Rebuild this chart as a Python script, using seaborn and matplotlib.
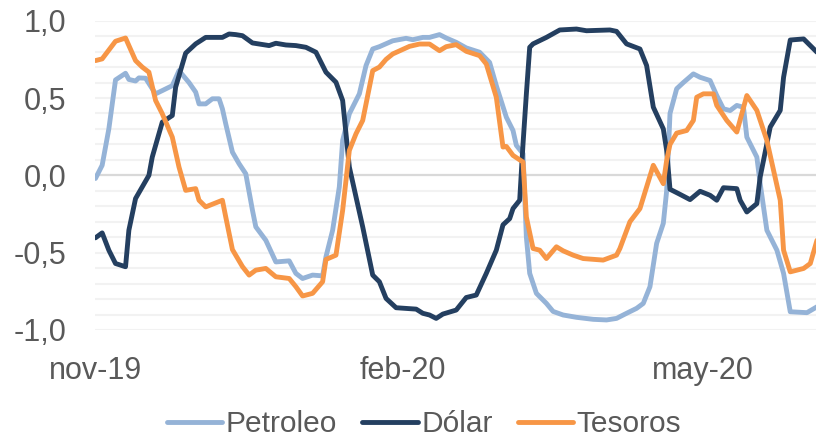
import matplotlib
matplotlib.use("Agg")
import matplotlib.pyplot as plt
import seaborn as sns
import pandas as pd

sns.set_theme(style="white")
plt.rcParams['font.family'] = ['Liberation Sans', 'DejaVu Sans']

# series names and colours
series = ["Petroleo", "Dólar", "Tesoros"]
colors = ["#95B3D7", "#243F60", "#F79646"]

# x axis ticks
tick_dates = ["2019-11-01", "2020-02-01", "2020-05-01"]
tick_labels = ["nov-19", "feb-20", "may-20"]
y_ticks = [-1.0, -0.5, 0.0, 0.5, 1.0]

petroleo_dates = [
    "2019-11-01", "2019-11-03", "2019-11-05", "2019-11-07", "2019-11-10", "2019-11-11",
    "2019-11-13", "2019-11-14", "2019-11-16", "2019-11-18", "2019-11-19", "2019-11-21",
    "2019-11-24", "2019-11-26", "2019-11-29", "2019-12-01", "2019-12-02", "2019-12-04",
    "2019-12-06", "2019-12-08", "2019-12-09", "2019-12-10", "2019-12-12", "2019-12-14",
    "2019-12-16", "2019-12-18", "2019-12-19", "2019-12-22", "2019-12-25", "2019-12-29",
    "2019-12-31", "2020-01-02", "2020-01-05", "2020-01-08", "2020-01-09", "2020-01-11",
    "2020-01-13", "2020-01-14", "2020-01-16", "2020-01-19", "2020-01-21", "2020-01-23",
    "2020-01-25", "2020-01-29", "2020-02-02", "2020-02-04", "2020-02-07", "2020-02-09",
    "2020-02-12", "2020-02-14", "2020-02-17", "2020-02-20", "2020-02-24", "2020-02-27",
    "2020-02-29", "2020-03-03", "2020-03-05", "2020-03-06", "2020-03-08", "2020-03-09",
    "2020-03-10", "2020-03-12", "2020-03-15", "2020-03-17", "2020-03-20", "2020-03-24",
    "2020-03-29", "2020-04-02", "2020-04-05", "2020-04-08", "2020-04-11", "2020-04-13",
    "2020-04-15", "2020-04-17", "2020-04-19", "2020-04-20", "2020-04-21", "2020-04-23",
    "2020-04-25", "2020-04-28", "2020-04-30", "2020-05-03", "2020-05-05", "2020-05-07",
    "2020-05-09", "2020-05-11", "2020-05-13", "2020-05-14", "2020-05-17", "2020-05-18",
    "2020-05-20", "2020-05-23", "2020-05-25", "2020-05-27", "2020-06-01", "2020-06-04",
]
petroleo = [
    -0.02, 0.065, 0.30, 0.617, 0.66, 0.62,
    0.61, 0.63, 0.628, 0.56, 0.527, 0.548,
    0.58, 0.677, 0.60, 0.538, 0.462, 0.462,
    0.495, 0.495, 0.43, 0.333, 0.15, 0.075,
    0.01, -0.226, -0.333, -0.42, -0.56, -0.553,
    -0.634, -0.667, -0.645, -0.65, -0.527, -0.355,
    -0.075, 0.226, 0.398, 0.527, 0.71, 0.817,
    0.832, 0.87, 0.886, 0.877, 0.892, 0.892,
    0.91, 0.888, 0.86, 0.824, 0.796, 0.73,
    0.58, 0.376, 0.29, 0.194, 0.14, -0.40,
    -0.634, -0.763, -0.828, -0.88, -0.903, -0.918,
    -0.931, -0.935, -0.925, -0.892, -0.86, -0.828,
    -0.72, -0.44, -0.31, -0.10, 0.40, 0.56,
    0.60, 0.656, 0.634, 0.613, 0.516, 0.43,
    0.419, 0.452, 0.44, 0.247, 0.118, -0.054,
    -0.355, -0.484, -0.634, -0.882, -0.888, -0.85,
]

dolar_dates = [
    "2019-11-01", "2019-11-03", "2019-11-05", "2019-11-07", "2019-11-10", "2019-11-11",
    "2019-11-13", "2019-11-15", "2019-11-17", "2019-11-18", "2019-11-20", "2019-11-21",
    "2019-11-24", "2019-11-25", "2019-11-28", "2019-12-01", "2019-12-04", "2019-12-09",
    "2019-12-11", "2019-12-13", "2019-12-15", "2019-12-18", "2019-12-23", "2019-12-25",
    "2019-12-28", "2019-12-31", "2020-01-03", "2020-01-06", "2020-01-09", "2020-01-12",
    "2020-01-14", "2020-01-15", "2020-01-16", "2020-01-18", "2020-01-20", "2020-01-23",
    "2020-01-25", "2020-01-27", "2020-01-30", "2020-02-05", "2020-02-07", "2020-02-09",
    "2020-02-11", "2020-02-13", "2020-02-17", "2020-02-20", "2020-02-23", "2020-02-26",
    "2020-02-29", "2020-03-02", "2020-03-04", "2020-03-05", "2020-03-07", "2020-03-08",
    "2020-03-09", "2020-03-10", "2020-03-11", "2020-03-15", "2020-03-19", "2020-03-24",
    "2020-03-27", "2020-04-03", "2020-04-05", "2020-04-08", "2020-04-12", "2020-04-14",
    "2020-04-16", "2020-04-19", "2020-04-20", "2020-04-21", "2020-04-24", "2020-04-27",
    "2020-04-30", "2020-05-03", "2020-05-05", "2020-05-07", "2020-05-11", "2020-05-12",
    "2020-05-14", "2020-05-17", "2020-05-18", "2020-05-21", "2020-05-24", "2020-05-25",
    "2020-05-27", "2020-05-31", "2020-06-04",
]
dolar = [
    -0.404, -0.372, -0.484, -0.57, -0.591, -0.355,
    -0.15, -0.075, 0.0, 0.118, 0.269, 0.344,
    0.387, 0.57, 0.79, 0.85, 0.892, 0.892,
    0.914, 0.91, 0.903, 0.856, 0.839, 0.854,
    0.843, 0.839, 0.828, 0.796, 0.667, 0.602,
    0.484, 0.269, 0.054, -0.14, -0.333, -0.645,
    -0.688, -0.796, -0.856, -0.865, -0.892, -0.903,
    -0.925, -0.897, -0.871, -0.79, -0.774, -0.634,
    -0.484, -0.32, -0.28, -0.215, -0.161, 0.204,
    0.527, 0.828, 0.85, 0.892, 0.94, 0.946,
    0.935, 0.94, 0.931, 0.85, 0.817, 0.71,
    0.441, 0.30, 0.161, -0.09, -0.123, -0.157,
    -0.103, -0.129, -0.161, -0.08, -0.086, -0.161,
    -0.237, -0.183, -0.01, 0.312, 0.42, 0.634,
    0.875, 0.882, 0.796,
]

tesoros_dates = [
    "2019-11-01", "2019-11-03", "2019-11-07", "2019-11-10", "2019-11-13", "2019-11-15",
    "2019-11-17", "2019-11-19", "2019-11-21", "2019-11-24", "2019-11-26", "2019-11-28",
    "2019-12-01", "2019-12-02", "2019-12-04", "2019-12-09", "2019-12-10", "2019-12-12",
    "2019-12-15", "2019-12-17", "2019-12-19", "2019-12-22", "2019-12-25", "2019-12-29",
    "2019-12-31", "2020-01-02", "2020-01-05", "2020-01-08", "2020-01-09", "2020-01-12",
    "2020-01-14", "2020-01-16", "2020-01-18", "2020-01-20", "2020-01-21", "2020-01-23",
    "2020-01-25", "2020-01-27", "2020-01-29", "2020-02-03", "2020-02-06", "2020-02-09",
    "2020-02-12", "2020-02-14", "2020-02-17", "2020-02-20", "2020-02-24", "2020-02-26",
    "2020-02-29", "2020-03-02", "2020-03-03", "2020-03-05", "2020-03-08", "2020-03-09",
    "2020-03-11", "2020-03-13", "2020-03-15", "2020-03-18", "2020-03-20", "2020-03-23",
    "2020-03-26", "2020-04-01", "2020-04-05", "2020-04-06", "2020-04-09", "2020-04-12",
    "2020-04-14", "2020-04-16", "2020-04-19", "2020-04-20", "2020-04-21", "2020-04-23",
    "2020-04-26", "2020-04-28", "2020-04-29", "2020-05-01", "2020-05-04", "2020-05-05",
    "2020-05-08", "2020-05-11", "2020-05-14", "2020-05-17", "2020-05-20", "2020-05-24",
    "2020-05-25", "2020-05-27", "2020-05-31", "2020-06-02", "2020-06-04",
]
tesoros = [
    0.742, 0.753, 0.867, 0.888, 0.742, 0.70,
    0.667, 0.484, 0.398, 0.247, 0.054, -0.097,
    -0.086, -0.161, -0.204, -0.161, -0.269, -0.48,
    -0.59, -0.645, -0.613, -0.602, -0.656, -0.667,
    -0.72, -0.78, -0.763, -0.688, -0.544, -0.516,
    -0.226, 0.161, 0.269, 0.355, 0.462, 0.677,
    0.70, 0.75, 0.785, 0.834, 0.849, 0.849,
    0.806, 0.832, 0.845, 0.802, 0.774, 0.72,
    0.505, 0.183, 0.187, 0.129, 0.086, -0.27,
    -0.473, -0.484, -0.538, -0.462, -0.488, -0.516,
    -0.538, -0.548, -0.516, -0.473, -0.30, -0.215,
    -0.075, 0.065, -0.054, 0.097, 0.20, 0.273,
    0.29, 0.355, 0.505, 0.527, 0.527, 0.452,
    0.355, 0.28, 0.516, 0.42, 0.226, -0.161,
    -0.484, -0.624, -0.602, -0.57, -0.42,
]

frames = []
for name, dates, vals in [(series[0], petroleo_dates, petroleo),
                          (series[1], dolar_dates, dolar),
                          (series[2], tesoros_dates, tesoros)]:
    frames.append(pd.DataFrame({"fecha": pd.to_datetime(dates), "valor": vals, "serie": name}))
df = pd.concat(frames, ignore_index=True)

fig = plt.figure(figsize=(8.16, 4.42), dpi=100)
ax = fig.add_axes([0.117, 0.2534, 0.883, 0.6998])

# light horizontal grid every 0.1, darker zero line
for k in range(-10, 11):
    if k != 0:
        ax.axhline(k / 10, color="#F2F2F2", lw=1.5, zorder=0)
ax.axhline(0, color="#D9D9D9", lw=1.6, zorder=1)

sns.lineplot(data=df, x="fecha", y="valor", hue="serie", hue_order=series,
             palette=colors, estimator=None, sort=True, lw=3.5, ax=ax,
             solid_capstyle="round", solid_joinstyle="round")

ax.set_xlim(pd.Timestamp("2019-11-01"), pd.Timestamp("2020-06-03 17:00"))
ax.set_ylim(-1, 1)
ax.set_yticks(y_ticks)
ax.set_yticklabels([f"{v:.1f}".replace(".", ",") for v in y_ticks])
ax.set_xticks(pd.to_datetime(tick_dates))
ax.set_xticklabels(tick_labels)
ax.tick_params(axis="y", length=0, pad=21, labelsize=22, labelcolor="#595959")
ax.tick_params(axis="x", length=0, pad=19, labelsize=22, labelcolor="#595959")
ax.set_xlabel("")
ax.set_ylabel("")
for s in ax.spines.values():
    s.set_visible(False)
ax.grid(False)

handles, labels = ax.get_legend_handles_labels()
ax.get_legend().remove()
fig.legend(handles, labels, loc="center", bbox_to_anchor=(424 / 816, 1 - 424 / 442),
           ncol=3, frameon=False, fontsize=21.5, labelcolor="#595959",
           handlelength=1.85, handletextpad=0.12, columnspacing=0.85, borderpad=0)

fig.savefig("out.png", dpi=100)
plt.close(fig)
